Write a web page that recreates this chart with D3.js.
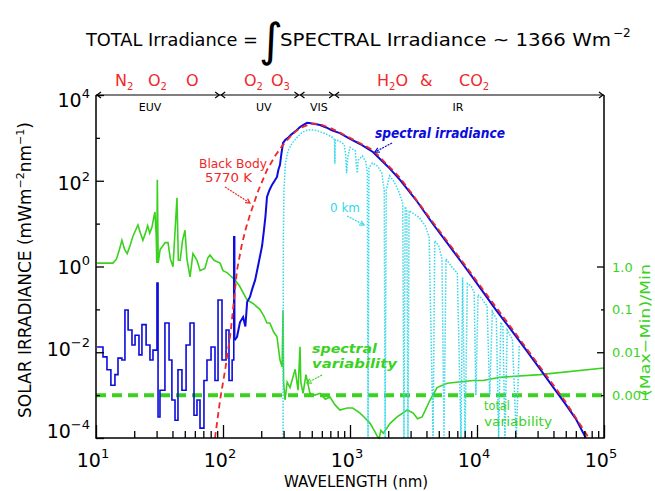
<!DOCTYPE html>
<html>
<head>
<meta charset="utf-8">
<script src="https://cdn.jsdelivr.net/npm/d3@7/dist/d3.min.js"></script>
<style>
  body { margin: 0; background: #fff; }
  text { font-family: "DejaVu Sans", sans-serif; }
</style>
</head>
<body>
<script>
// data: [wavelength nm, value]
var blueEuv = [
  [10.2,0.0133],[11.35,0.0078],[12.2,0.0039],[13.1,0.0017],[14.1,0.003],[14.9,0.0073],
  [16.0,0.0066],[16.9,0.097],[17.9,0.033],[19.2,0.0148],[20.3,0.025],[21.8,0.0087],
  [23.0,0.044],[24.8,0.0148],[26.6,0.0066],[28.1,0.0112],[30.2,0.41],[30.8,0.00031],
  [31.9,0.0013],[34.9,0.048],[37.6,0.0066],[39.6,0.00077],[41.9,0.00026],[44.2,0.0039],
  [47.5,0.0013],[51.2,0.0148],[55.0,0.048],[59.1,0.00034],[62.4,0.00077],[65.9,0.00017],
  [70.8,0.0022],[74.8,0.0066],[80.5,0.0133],[86.5,0.0022],[91.4,0.166],[98.2,0.0066],
  [105.7,0.033],[111.5,0.0022],[118,0.0066],[121.6,4.9],[123.5,0.019]
];

var blueMain = [
  [123.5,0.019],[129,0.023],[136,0.05],[144,0.066],[150,0.04],[155,0.15],[163,0.195],
  [170,0.3],[179,0.48],[187,0.9],[195,1.66],[203,3],[210,7],[216,15],[222,42],[232,60],
  [243,80],[255,100],[266,123],[273,180],[281,236],[289,450],[297,760],[310,900],
  [325,1000],[340,1150],[356,1290],[380,1500],[404,1780],[430,2000],[459,2240],[490,2200],
  [530,2100],[580,1990],[650,1750],[720,1500],[832,1290],[1000,950],[1200,720],
  [1515,470],[2000,210],[2475,105],[3300,36],[4500,9.8],[5800,3.6],[7350,1.4],
  [9000,0.62],[11150,0.256],[14000,0.1],[18200,0.036],[24000,0.012],[31300,0.0041],
  [40000,0.0015],[49300,0.00064],[60000,0.00028],[72000,0.0001]
];

var blackBody = [
  [86.5,0.0001],[95,0.0008],[104,0.0039],[115,0.03],[129,0.83],[140,3],[150,7],
  [163,16],[190,60],[222,178],[260,400],[296,680],[350,1200],[405,1700],[484,2100],
  [530,2150],[600,2000],[700,1700],[832,1330],[1000,1000],[1515,520],[2475,118],
  [4500,10.8],[7350,1.55],[11150,0.29],[18200,0.041],[31300,0.0046],[49300,0.00073],
  [76000,0.0001]
];

var groundLevel = [
  [297,0.0001],[299,5],[302,60],[310,250],[325,500],[350,750],[380,1000],[420,1350],
  [460,1500],[500,1550],[560,1450],[640,1250],[700,1100],[740,1000],[755,900],[760,250],
  [765,900],[820,850],[900,700],[925,400],[940,150],[960,350],[1000,600],[1100,500],
  [1120,250],[1140,150],[1160,300],[1250,380],[1330,280],[1370,150],[1387,0.0001],
  [1410,200],[1500,260],[1650,220],[1780,150],[1860,60],[1890,0.0001],[1930,60],
  [2050,130],[2200,100],[2400,60],[2600,30],[2660,0.0001],[2720,25],[2800,20],
  [2860,0.0001],[2920,20],[3500,14],[3900,9],[4200,5],[4510,0.0001],[4650,4],[5000,3],
  [5300,1.5],[5500,0.0001],[5700,1.5],[6300,1.0],[7000,0.7],[7480,0.0001],[7700,0.55],
  [8050,0.0001],[8400,0.4],[9000,0.35],[9500,0.25],[9800,0.001],[10200,0.22],
  [11000,0.17],[12000,0.12],[12600,0.001],[13200,0.09],[14200,0.06],[14800,0.0001],
  [15400,0.05],[16000,0.04],[16600,0.0001],[17300,0.033],[19000,0.02],[20400,0.0001],
  [21500,0.014]
];

var spectralVar = [
  [10.2,1.2],[13.6,1.2],[14.5,1.5],[15.3,2.5],[16,4.1],[16.8,2.5],[17.6,2.0],[18.5,3],
  [19.5,5],[20.5,7],[21.4,9.3],[22.4,6],[23.4,4.1],[24.5,6],[25.5,9],[26.5,6],[27.6,8.3],
  [28.5,14],[29.1,18.7],[29.8,5],[30.1,1.2],[30.4,105],[30.9,1.2],[32,2.5],[33.1,2.85],
  [35,3.6],[36.9,3.6],[38.5,1.5],[40.4,0.99],[43.4,40],[44.5,1.4],[46,1.4],[48,4],
  [50.2,7],[52,1.5],[55,0.57],[58,2],[62.4,1.4],[66,0.8],[72,0.9],[76,1.6],[79,1.86],
  [85,1.4],[94.9,1.2],[100,0.8],[107.5,0.72],[115,0.6],[124,0.49],[135,0.35],
  [154.5,0.166],[172.5,0.137],[195,0.1],[210,0.07],[222,0.048],[234,0.048],[250,0.03],
  [266,0.023],[281,0.0066],[292,0.0046],[297,0.096],[300,0.002],[308,0.00077],
  [320,0.002],[337,0.0015],[370,0.004],[390,0.0013],[404,0.0135],[410,0.002],
  [427,0.0011],[450,0.003],[484,0.0011],[530,0.001],[580,0.0011],[640,0.0008],
  [696,0.0009],[760,0.0006],[832,0.00045],[950,0.0005],[1050,0.0005],[1200,0.00038],
  [1300,0.0003],[1440,0.00022],[1550,0.00015],[1640,0.00011],[1700,0.0001],
  [1750,0.00015],[1830,0.00013],[2070,0.00022],[2350,0.00031],[2820,0.00045],
  [3150,0.00038],[3400,0.00028],[3700,0.00031],[4270,0.00077],[4850,0.0015],
  [5830,0.0019],[9300,0.0022],[11150,0.0022],[15200,0.0026],[31300,0.003],[100000,0.0043]
];

var totalVar = 0.001;

// axis ticks
var xMajor = [10, 100, 1000, 10000, 100000];
var xMinor = [];
xMajor.slice(0, 4).forEach(function(d) {
  for (var k = 2; k <= 9; k++) xMinor.push(d * k);
});
var yMajor = [1e-4, 1e-2, 1, 1e2, 1e4];
var yMinor = [1e-3, 1e-1, 10, 1e3];
var xExp = ["1", "2", "3", "4", "5"];
var yExp = ["\u22124", "\u22122", "0", "2", "4"];
var rightLong = [1, 0.01];
var rightShort = [0.1, 0.001];
var rightLabels = ["1.0", "0.1", "0.01", "0.001"];
var rightValues = [1, 0.1, 0.01, 0.001];

// spectral regions along the top
var regionEdges = [10, 95, 400, 750, 100000];
var regionNames = ["EUV", "UV", "VIS", "IR"];

var vis = { width: 655, height: 491, left: 96, right: 604, top: 95, bottom: 438 };

var svg = d3.select("body").append("svg")
  .attr("width", vis.width)
  .attr("height", vis.height);

var x = d3.scaleLog().domain([10, 1e5]).range([vis.left, vis.right]);
var y = d3.scaleLog().domain([1e-4, 1e4]).range([vis.bottom, vis.top]);

var blue = "#0c0cdc", red = "#f02828", cyan = "#30d8ea", green = "#3ad21e";

var line = d3.line()
  .x(function(d) { return x(d[0]); })
  .y(function(d) { return y(d[1]); });

var stepLine = d3.line()
  .curve(d3.curveStepAfter)
  .x(function(d) { return x(d[0]); })
  .y(function(d) { return y(d[1]); });

var plot = svg.append("g");

// green variability lines
plot.append("path").datum(spectralVar)
  .attr("d", line).attr("fill", "none")
  .attr("stroke", green).attr("stroke-width", 1.6);

plot.append("line")
  .attr("x1", x(10)).attr("x2", x(1e5))
  .attr("y1", y(totalVar)).attr("y2", y(totalVar))
  .attr("stroke", green).attr("stroke-width", 4)
  .attr("stroke-dasharray", "10,6");

// ground level spectrum
plot.append("path").datum(groundLevel)
  .attr("d", line).attr("fill", "none")
  .attr("stroke", cyan).attr("stroke-width", 1.5)
  .attr("stroke-dasharray", "1.5,1.5");

// measured spectrum
plot.append("path").datum(blueEuv)
  .attr("d", stepLine).attr("fill", "none")
  .attr("stroke", blue).attr("stroke-width", 1.6);

plot.append("path").datum(blueMain)
  .attr("d", line).attr("fill", "none")
  .attr("stroke", blue).attr("stroke-width", 2);

// black body
plot.append("path").datum(blackBody)
  .attr("d", line).attr("fill", "none")
  .attr("stroke", red).attr("stroke-width", 1.8)
  .attr("stroke-dasharray", "6,4");

// frame
svg.append("path")
  .attr("d", "M" + vis.left + "," + vis.top + "V" + vis.bottom + "H" + vis.right + "V" + vis.top)
  .attr("fill", "none").attr("stroke", "#000").attr("stroke-width", 1.5);

// axes, ticks pointing inside
function styleAxis(g) {
  g.select(".domain").remove();
  g.selectAll("text").remove();
  g.selectAll("line").attr("stroke", "#000").attr("stroke-width", 1.3);
}
svg.append("g").attr("transform", "translate(0," + vis.bottom + ")")
  .call(d3.axisBottom(x).tickValues(xMajor).tickSize(-13)).call(styleAxis);
svg.append("g").attr("transform", "translate(0," + vis.bottom + ")")
  .call(d3.axisBottom(x).tickValues(xMinor).tickSize(-7)).call(styleAxis);

svg.append("g").attr("transform", "translate(" + vis.left + ",0)")
  .call(d3.axisLeft(y).tickValues(yMajor).tickSize(-8)).call(styleAxis);
svg.append("g").attr("transform", "translate(" + vis.left + ",0)")
  .call(d3.axisLeft(y).tickValues(yMinor).tickSize(-4)).call(styleAxis);

svg.append("g").attr("transform", "translate(" + vis.right + ",0)")
  .call(d3.axisRight(y).tickValues(rightLong).tickSize(-7)).call(styleAxis);
svg.append("g").attr("transform", "translate(" + vis.right + ",0)")
  .call(d3.axisRight(y).tickValues(rightShort).tickSize(-3)).call(styleAxis);

// tick labels with superscripts
xMajor.forEach(function(d, i) {
  var t = svg.append("text").attr("x", x(d) - 3).attr("y", 467)
    .attr("text-anchor", "middle").attr("font-size", 19);
  t.append("tspan").text("10");
  t.append("tspan").attr("dy", -9).attr("font-size", 13).text(xExp[i]);
});
var yNudge = [-7, -3, 0, 2, 5];
yMajor.forEach(function(d, i) {
  var t = svg.append("text").attr("x", 90).attr("y", y(d) + 7 + yNudge[i])
    .attr("text-anchor", "end").attr("font-size", 19);
  t.append("tspan").text("10");
  t.append("tspan").attr("dy", -9).attr("font-size", 13).text(yExp[i]);
});
rightValues.forEach(function(d, i) {
  svg.append("text").attr("x", 612).attr("y", y(d) + 5)
    .attr("font-size", 13).attr("fill", green).text(rightLabels[i]);
});

// axis titles
svg.append("text").attr("x", 356).attr("y", 487)
  .attr("text-anchor", "middle").attr("font-size", 15)
  .text("WAVELENGTH (nm)");

var yt = svg.append("text")
  .attr("transform", "translate(31,270) rotate(-90)")
  .attr("text-anchor", "middle").attr("font-size", 17);
yt.append("tspan").text("SOLAR IRRADIANCE (mWm");
yt.append("tspan").attr("dy", -7).attr("font-size", 11).text("\u22122");
yt.append("tspan").attr("dy", 7).text("nm");
yt.append("tspan").attr("dy", -7).attr("font-size", 11).text("\u22121");
yt.append("tspan").attr("dy", 7).text(")");

svg.append("text")
  .attr("transform", "translate(650,330) rotate(-90)")
  .attr("text-anchor", "middle").attr("font-size", 14).attr("fill", green)
  .attr("textLength", 132).attr("lengthAdjust", "spacingAndGlyphs")
  .text("(Max\u2212Min)/Min");

// title
svg.append("text").attr("x", 86).attr("y", 46).attr("font-size", 18)
  .attr("textLength", 172).attr("lengthAdjust", "spacingAndGlyphs")
  .text("TOTAL Irradiance =");
svg.append("text").attr("x", 259).attr("y", 56).attr("font-size", 46)
  .text("\u222B");
svg.append("text").attr("x", 280).attr("y", 46).attr("font-size", 18)
  .attr("textLength", 331).attr("lengthAdjust", "spacingAndGlyphs")
  .text("SPECTRAL Irradiance ~ 1366 Wm");
svg.append("text").attr("x", 613).attr("y", 37).attr("font-size", 12)
  .text("\u22122");

// region arrows along the top
var labelShift = [-8, 4, 2, -11];
var arrow = svg.append("g").attr("stroke", "#000").attr("fill", "none").attr("stroke-width", 1.2);
for (var i = 0; i < regionEdges.length - 1; i++) {
  var a = x(regionEdges[i]), b = x(regionEdges[i + 1]), yy = vis.top;
  arrow.append("line").attr("x1", a).attr("x2", b).attr("y1", yy).attr("y2", yy);
  arrow.append("path").attr("d", "M" + (a + 5) + "," + (yy - 3) + "L" + (a + 1) + "," + yy + "L" + (a + 5) + "," + (yy + 3));
  arrow.append("path").attr("d", "M" + (b - 5) + "," + (yy - 3) + "L" + (b - 1) + "," + yy + "L" + (b - 5) + "," + (yy + 3));
  svg.append("text").attr("x", (a + b) / 2 + labelShift[i]).attr("y", 111)
    .attr("text-anchor", "middle").attr("font-size", 11)
    .text(regionNames[i]);
}

// absorbing molecules (red)
function chem(xp, main, sub, tail) {
  var t = svg.append("text").attr("x", xp).attr("y", 86)
    .attr("font-size", 16).attr("fill", red);
  t.append("tspan").text(main);
  if (sub) t.append("tspan").attr("dy", 4).attr("font-size", 10).text(sub);
  if (tail) t.append("tspan").attr("dy", -4).text(tail);
}
chem(115, "N", "2");
chem(148, "O", "2");
chem(186, "O");
chem(244, "O", "2");
chem(271, "O", "3");
chem(377, "H", "2", "O");
chem(420, "&");
chem(459, "CO", "2");

// annotations
function note(xp, yp, str, col, size, italic, len) {
  var t = svg.append("text").attr("x", xp).attr("y", yp)
    .attr("font-size", size).attr("fill", col).text(str);
  if (italic) t.attr("font-style", "italic").attr("font-weight", "bold")
    .attr("font-family", "DejaVu Serif, serif");
  if (len) t.attr("textLength", len).attr("lengthAdjust", "spacingAndGlyphs");
}
function pointer(x1, y1, x2, y2, col) {
  svg.append("line").attr("x1", x1).attr("y1", y1).attr("x2", x2).attr("y2", y2)
    .attr("stroke", col).attr("stroke-width", 1.2).attr("stroke-dasharray", "2,1");
  var ang = Math.atan2(y2 - y1, x2 - x1);
  var p1 = [x2 - 5 * Math.cos(ang - 0.5), y2 - 5 * Math.sin(ang - 0.5)];
  var p2 = [x2 - 5 * Math.cos(ang + 0.5), y2 - 5 * Math.sin(ang + 0.5)];
  svg.append("path").attr("d", "M" + p1 + "L" + x2 + "," + y2 + "L" + p2)
    .attr("fill", "none").attr("stroke", col).attr("stroke-width", 1.2);
}

note(375, 138, "spectral irradiance", blue, 14, true, 130);
pointer(392, 143, 375, 152, blue);

note(199, 168, "Black Body", red, 13, false, 68);
note(205, 182, "5770 K", red, 13, false, 47);
pointer(225, 187, 250, 203, red);

note(330, 212, "0 km", cyan, 13, false, 30);
pointer(347, 216, 364, 225, cyan);

note(312, 353, "spectral", green, 13, true, 65);
note(312, 368, "variability", green, 13, true, 85);
pointer(322, 375, 307, 383, green);

note(484, 410, "total", green, 13, false, 26);
note(484, 426, "variability", green, 13, false, 68);
</script>
</body>
</html>
